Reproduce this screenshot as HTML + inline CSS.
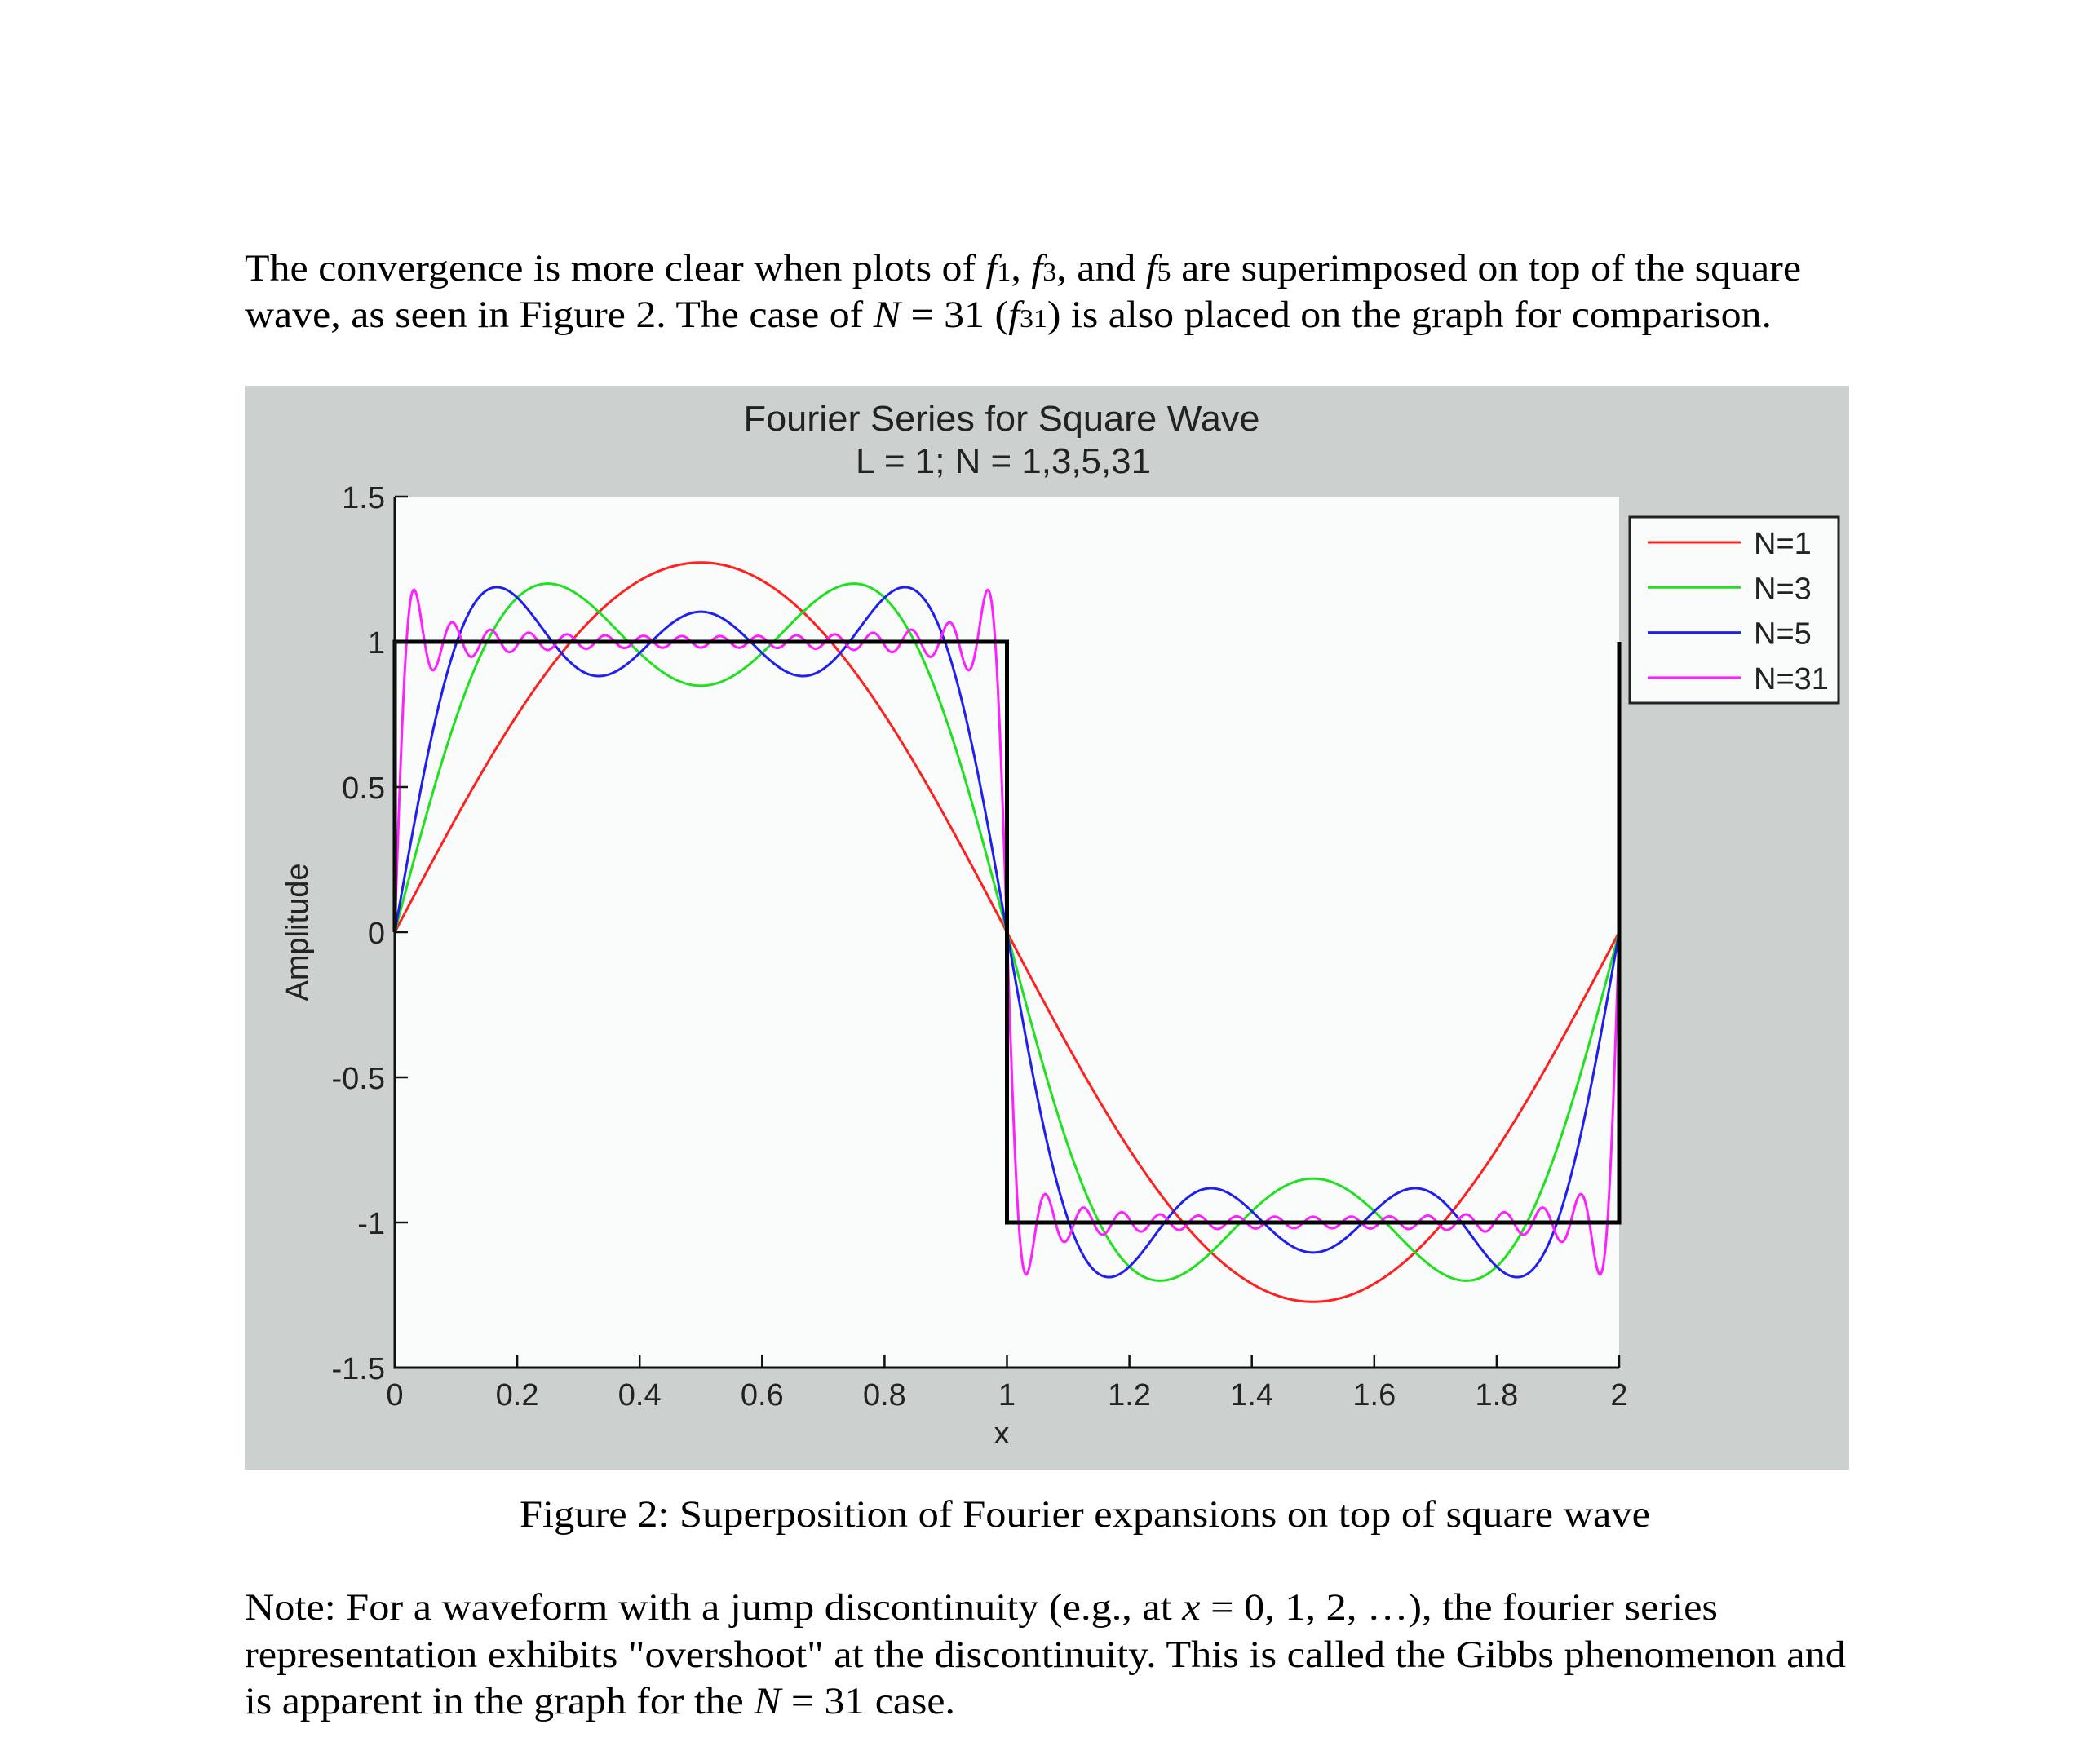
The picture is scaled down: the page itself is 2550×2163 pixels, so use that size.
<!DOCTYPE html>
<html><head><meta charset="utf-8"><style>
html,body{margin:0;padding:0;background:#fff;}
svg{display:block;}
</style></head><body>
<svg id="page" width="2550" height="2163" viewBox="0 0 2550 2163" xmlns="http://www.w3.org/2000/svg">
<g font-family="Liberation Serif, serif" font-size="47" fill="#000">
<text x="300" y="344" textLength="1908" lengthAdjust="spacingAndGlyphs">The convergence is more clear when plots of <tspan font-style="italic">f</tspan><tspan font-size="32">1</tspan>, <tspan font-style="italic">f</tspan><tspan font-size="32">3</tspan>, and <tspan font-style="italic">f</tspan><tspan font-size="32">5</tspan> are superimposed on top of the square</text>
<text x="300" y="401" textLength="1872" lengthAdjust="spacingAndGlyphs">wave, as seen in Figure 2. The case of <tspan font-style="italic">N</tspan> = 31 (<tspan font-style="italic">f</tspan><tspan font-size="32">31</tspan>) is also placed on the graph for comparison.</text>
</g>
<rect x="300" y="473" width="1967" height="1329" fill="#ccd0cf"/>
<g id="chart"></g>
<g font-family="Liberation Serif, serif" font-size="47" fill="#000">
<text x="637" y="1872" textLength="1386" lengthAdjust="spacingAndGlyphs">Figure 2:  Superposition of Fourier expansions on top of square wave</text>
</g>
<g font-family="Liberation Serif, serif" font-size="47" fill="#000">
<text x="300" y="1986" textLength="1806" lengthAdjust="spacingAndGlyphs">Note:  For a waveform with a jump discontinuity (e.g., at <tspan font-style="italic">x</tspan> = 0, 1, 2, …), the fourier series</text>
<text x="300" y="2044" textLength="1963" lengthAdjust="spacingAndGlyphs">representation exhibits "overshoot" at the discontinuity.  This is called the Gibbs phenomenon and</text>
<text x="300" y="2101" textLength="871" lengthAdjust="spacingAndGlyphs">is apparent in the graph for the <tspan font-style="italic">N</tspan> = 31 case.</text>
</g>
</svg>
<script>
const nValues = [1, 3, 5, 31];
const seriesLabels = ['N=1', 'N=3', 'N=5', 'N=31'];
const seriesColors = ['#ff2020', '#20e020', '#2020ee', '#ff20ff'];
const squareX = [0, 0, 1, 1, 2, 2];
const squareY = [0, 1, 1, -1, -1, 1];
const xTicks = [0, 0.2, 0.4, 0.6, 0.8, 1, 1.2, 1.4, 1.6, 1.8, 2];
const xTickLabels = ['0', '0.2', '0.4', '0.6', '0.8', '1', '1.2', '1.4', '1.6', '1.8', '2'];
const yTicks = [-1.5, -1, -0.5, 0, 0.5, 1, 1.5];
const yTickLabels = ['-1.5', '-1', '-0.5', '0', '0.5', '1', '1.5'];

const NS = 'http://www.w3.org/2000/svg';
const chart = document.getElementById('chart');
const X0 = 484, X1 = 1985, Y0 = 1677, Y1 = 609;
const xMin = 0, xMax = 2, yMin = -1.5, yMax = 1.5;
function sx(v){ return X0 + (v - xMin) / (xMax - xMin) * (X1 - X0); }
function sy(v){ return Y0 - (v - yMin) / (yMax - yMin) * (Y0 - Y1); }
function mk(tag, attrs, parent){
  const e = document.createElementNS(NS, tag);
  for (const k in attrs) e.setAttribute(k, attrs[k]);
  (parent || chart).appendChild(e);
  return e;
}
function fourier(N, x){
  let s = 0;
  for (let n = 1; n <= N; n += 2) s += 4 / (n * Math.PI) * Math.sin(n * Math.PI * x);
  return s;
}

const bg = mk('rect', {x: X0, y: Y1, width: X1 - X0, height: Y0 - Y1, fill: '#fafcfc'});



const t1 = mk('text', {x: 1228, y: 528, 'text-anchor': 'middle', 'font-family': 'Liberation Sans, sans-serif', 'font-size': '44', fill: '#222', textLength: 633, lengthAdjust: 'spacingAndGlyphs'});
t1.textContent = 'Fourier Series for Square Wave';


const t2 = mk('text', {x: 1230, y: 580, 'text-anchor': 'middle', 'font-family': 'Liberation Sans, sans-serif', 'font-size': '44', fill: '#222', textLength: 362, lengthAdjust: 'spacingAndGlyphs'});
t2.textContent = 'L = 1; N = 1,3,5,31';



nValues.forEach((N, i) => {
  const steps = 1200;
  let d = '';
  for (let k = 0; k <= steps; k++) {
    const x = xMin + (xMax - xMin) * k / steps;
    d += (k ? 'L' : 'M') + sx(x).toFixed(2) + ',' + sy(fourier(N, x)).toFixed(2);
  }
  const p = mk('path', {d: d, fill: 'none', stroke: seriesColors[i], 'stroke-width': 3});
  
  
});

let sd = '';
squareX.forEach((x, i) => { sd += (i ? 'L' : 'M') + sx(x) + ',' + sy(squareY[i]); });
const sq = mk('path', {d: sd, fill: 'none', stroke: '#000', 'stroke-width': 5});



const ax = mk('path', {d: 'M' + X0 + ',' + Y1 + 'L' + X0 + ',' + Y0 + 'L' + X1 + ',' + Y0, fill: 'none', stroke: '#111', 'stroke-width': 3});



xTicks.forEach((v, i) => {
  const tk = mk('line', {x1: sx(v), x2: sx(v), y1: Y0, y2: Y0 - 16, stroke: '#111', 'stroke-width': 2.5});
  
  
  const lb = mk('text', {x: sx(v), y: Y0 + 46, 'text-anchor': 'middle', 'font-family': 'Liberation Sans, sans-serif', 'font-size': '38', fill: '#222'});
  lb.textContent = xTickLabels[i];
  
  
});
yTicks.forEach((v, i) => {
  const tk = mk('line', {x1: X0, x2: X0 + 16, y1: sy(v), y2: sy(v), stroke: '#111', 'stroke-width': 2.5});
  
  
  const lb = mk('text', {x: X0 - 12, y: sy(v) + 14, 'text-anchor': 'end', 'font-family': 'Liberation Sans, sans-serif', 'font-size': '38', fill: '#222'});
  lb.textContent = yTickLabels[i];
  
  
});

const xl = mk('text', {x: 1228, y: 1770, 'text-anchor': 'middle', 'font-family': 'Liberation Sans, sans-serif', 'font-size': '38', fill: '#222'});
xl.textContent = 'x';


const yl = mk('text', {x: 0, y: 0, 'text-anchor': 'middle', 'font-family': 'Liberation Sans, sans-serif', 'font-size': '38', fill: '#222', transform: 'translate(377,1143) rotate(-90)'});
yl.textContent = 'Amplitude';



const lg = mk('g', {});


mk('rect', {x: 1998, y: 634, width: 256, height: 228, fill: '#fafcfc', stroke: '#222', 'stroke-width': 3}, lg);
seriesLabels.forEach((s, i) => {
  const yy = 665 + i * 55.3;
  const ent = mk('g', {}, lg);
  
  
  mk('line', {x1: 2020, x2: 2134, y1: yy, y2: yy, stroke: seriesColors[i], 'stroke-width': 3}, ent);
  const tx = mk('text', {x: 2150, y: yy + 14, 'font-family': 'Liberation Sans, sans-serif', 'font-size': '38', fill: '#222'}, ent);
  tx.textContent = s;
});
</script>
</body></html>
